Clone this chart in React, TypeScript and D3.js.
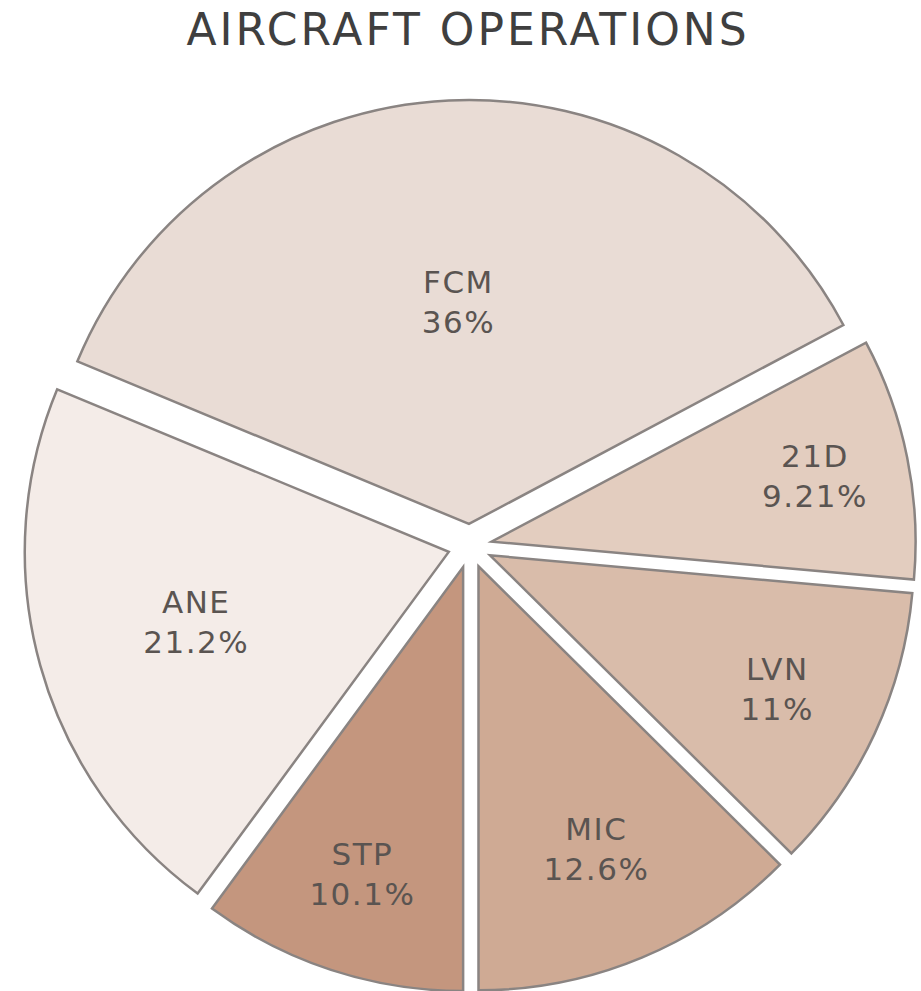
import React from "react";
import * as d3 from "d3";

const labels = ["STP", "ANE", "FCM", "21D", "LVN", "MIC"];
const values = [10.1, 21.2, 36, 9.21, 11, 12.6];
const colors = ["#c4967e", "#f4ece8", "#e9dcd5", "#e3cdbf", "#d9bcaa", "#cfaa94"];
const title = "AIRCRAFT OPERATIONS";

const W = 921;
const H = 991;
const cx = 470;
const cy = 546;
const R = 424;
const pull = 0.052;

export default function App() {
  const pie = d3
    .pie<number>()
    .sort(null)
    .startAngle(Math.PI)
    .endAngle(3 * Math.PI);
  const arcs = pie(values);
  const arcGen = d3.arc<d3.PieArcDatum<number>>().innerRadius(0).outerRadius(R);
  const fmt = d3.format(".3~r");
  const fontSize = 31;
  const lineH = 40;

  return (
    <svg
      width={W}
      height={H}
      style={{ position: "absolute", left: 0, top: 0, background: "#fff" }}
    >
      <text
        x={468}
        y={45}
        textAnchor="middle"
        fontFamily="DejaVu Sans, Verdana, sans-serif"
        fontSize={44}
        letterSpacing={3}
        fill="#3f3f3f"
      >
        {title}
      </text>
      {arcs.map((a, i) => {
        const mid = (a.startAngle + a.endAngle) / 2;
        const dx = Math.sin(mid) * pull * R;
        const dy = -Math.cos(mid) * pull * R;
        const half = Math.min((a.endAngle - a.startAngle) / 2, Math.PI / 2);
        const rIns = Math.min(1 / (1 + 1 / Math.sin(half)), 0.5);
        const rc = (1 - rIns) * R;
        const lx = Math.sin(mid) * rc;
        const ly = -Math.cos(mid) * rc;
        return (
          <g key={labels[i]} transform={`translate(${cx + dx},${cy + dy})`}>
            <path
              d={arcGen(a) || ""}
              fill={colors[i]}
              stroke="#8a8482"
              strokeWidth={2.5}
              strokeLinejoin="miter"
            />
            <text
              x={lx}
              y={ly}
              textAnchor="middle"
              fontFamily="DejaVu Sans, Verdana, sans-serif"
              fontSize={fontSize}
              letterSpacing={1.5}
              fill="#5a5451"
            >
              <tspan x={lx} y={ly - lineH / 2} dominantBaseline="central">
                {labels[i]}
              </tspan>
              <tspan x={lx} y={ly + lineH / 2} dominantBaseline="central">
                {fmt(values[i]) + "%"}
              </tspan>
            </text>
          </g>
        );
      })}
    </svg>
  );
}
